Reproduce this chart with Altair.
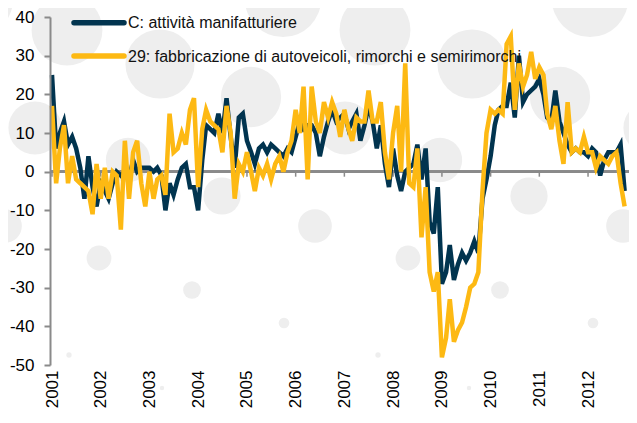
import math
import altair as alt
import pandas as pd

# ---------------- data ----------------
months = pd.date_range("2001-01-01", periods=142, freq="MS")
years = list(range(2001, 2013))
series_labels = ["C: attività manifatturiere",
                 "29: fabbricazione di autoveicoli, rimorchi e semirimorchi"]

c_values = [
    25, 6, 10, 13, 7, 9, 6, 1, -7, 4, -4, -9,            # 2001
    -3, -5, -7, -3, 0, -1, 0, -2, 3, 0, 1, 1,            # 2002
    1, 0, 1, -1, -10, -3, -6, -2, 1, 2, -4, -4,          # 2003
    -10, 3, 12, 11, 10, 15, 10, 19, 9, 1, 14, 15,        # 2004
    8, 5, 2, 6, 7, 5, 7, 6, 5, 4, 6, 5,                  # 2005
    9, 13, 11, 12, 12, 10, 4, 9, 13, 16, 13, 14,         # 2006
    15, 11, 13, 15, 8, 12, 17, 13, 6, 12, 2, -4,         # 2007
    6, -1, -5, 0, 1, 2, 7, -2, 6, -13, -16, -4,          # 2008
    -29, -26, -19, -28, -24, -21, -23, -21, -18, -21, -7, -2,  # 2009
    4, 12, 16, 17, 17, 23, 14, 30, 18, 20, 21, 22,       # 2010
    24, 20, 14, 13, 21, 13, 10, 7, 5, 6, 5, 5,           # 2011
    4, 6, 5, -1, 3, 5, 5, 5, 7, -5,                      # 2012
]

auto_values = [
    17, -3, 6, 12, -3, 4, -2, -3, -4, -5, -11, 2,        # 2001
    -7, 1, -7, 0, -1, -15, 8, -7, 5, 8, -3, -9,          # 2002
    0, -7, -2, -1, -6, 15, 5, 6, 10, 7, 16, 19,          # 2003
    -4, 11, 16, 13, 12, 11, 5, 17, 10, -7, 2, 0,         # 2004
    5, 0, -5, 1, -1, 2, -2, 2, 4, 0, 5, 8,               # 2005
    16, 10, 22, -2, 22, 13, 10, 18, 14, 18, 15, 9,       # 2006
    16, 11, 8, 14, 13, 13, 21, 13, 13, 18, 5, -2,        # 2007
    10, 17, 0, 28, -3, -4, 6, -17, -4, -26, -31, -26,    # 2008
    -48, -43, -33, -44, -41, -39, -35, -30, -29, -26, -5, 10,  # 2009
    16, 15, 16, 15, 33, 35, 16, 28, 22, 25, 31, 24,      # 2010
    27, 25, 15, 11, 17, 8, 2, 18, 5, 6, 5, 9,            # 2011
    5, 5, 1, 4, 3, 2, 4, 5, -3, -9,                      # 2012
]

y_ticks = list(range(-50, 41, 10))

# decorative background dots (page pixel positions and radii)
deco_x = [189, 497, -25, 283, 590, 67, 375, 160, 472, 251, 560, 35, 345, 650,
          128, 440, 222, 529, 5, 315, 623, 99, 408, 192, 500, 284, 593, 69, 378,
          162, 469]
deco_y = [-34, -34, -1, -1, -1, 30, 30, 64, 64, 97, 97, 128, 128, 128, 160, 160,
          196, 196, 226, 226, 226, 258, 258, 290, 290, 323, 323, 355, 355, 388, 388]
deco_r = [46, 46, 43, 43, 43, 40, 40, 39, 39, 34, 34, 30, 30, 30, 25, 25, 21, 21,
          19, 19, 19, 14, 14, 10, 10, 6, 6, 3, 3, 2.5, 2.5]

# ---------------- styling ----------------
NAVY = "#01344f"
YELLOW = "#fdb913"
GREY = "#8a8a8a"
DOT = "#eeeeee"
FONT = "Liberation Sans"
PLOT_LEFT, PLOT_TOP, PLOT_W, PLOT_H = 50, 17, 579, 348

df = pd.DataFrame({"date": months, "C": c_values, "A": auto_values})
ticks_df = pd.DataFrame({"date": pd.to_datetime([f"{y}-01-01" for y in years])})
deco_df = pd.DataFrame({
    "cx": [x - PLOT_LEFT for x in deco_x],
    "cy": [y - PLOT_TOP for y in deco_y],
    "area": [math.pi * r * r for r in deco_r],
})

x_scale = alt.Scale(domain=[alt.DateTime(year=2000, month=12, date=17),
                            alt.DateTime(year=2012, month=11, date=3)])
y_scale = alt.Scale(domain=[-50, 40], nice=False, zero=False)

x_axis = alt.Axis(values=[alt.DateTime(year=y, month=1, date=1) for y in years],
                  orient="bottom", format="%Y", labelAngle=-90, domain=False,
                  ticks=False, grid=False, labelFontSize=17, labelFont=FONT,
                  labelColor="#000000", labelPadding=5, labelOverlap=False,
                  zindex=1, title=None)
y_axis = alt.Axis(values=y_ticks, orient="left", grid=False, domain=True,
                  domainColor=GREY, domainWidth=2, ticks=True, tickColor=GREY,
                  tickWidth=2, tickSize=6, labelFontSize=17, labelFont=FONT,
                  labelColor="#000000", labelPadding=10, labelOverlap=False,
                  labelExpr="'' + datum.value", zindex=1, title=None)

dots = alt.Chart(deco_df).mark_circle(color=DOT, opacity=1).encode(
    x=alt.X("cx:Q", scale=None, axis=None),
    y=alt.Y("cy:Q", scale=None, axis=None),
    size=alt.Size("area:Q", scale=None, legend=None),
)
zero_line = alt.Chart(df).mark_rule(color=GREY, strokeWidth=2).encode(
    y=alt.YDatum(0, scale=y_scale, axis=None))
year_ticks = alt.Chart(ticks_df).mark_rule(color=GREY, strokeWidth=1.5).encode(
    x=alt.X("date:T", scale=x_scale, axis=None),
    y=alt.YDatum(0, scale=y_scale, axis=None),
    y2=alt.datum(-1.3),
)
navy_line = alt.Chart(df).mark_line(color=NAVY, strokeWidth=4.5).encode(
    x=alt.X("date:T", scale=x_scale, axis=x_axis),
    y=alt.Y("C:Q", scale=y_scale, axis=y_axis),
)
yellow_line = alt.Chart(df).mark_line(color=YELLOW, strokeWidth=4.5).encode(
    x=alt.X("date:T", scale=x_scale, axis=None),
    y=alt.Y("A:Q", scale=y_scale, axis=None),
)

leg1 = pd.DataFrame({"label": [series_labels[0]]})
leg2 = pd.DataFrame({"label": [series_labels[1]]})
leg_line1 = alt.Chart(leg1).mark_rule(color=NAVY, strokeWidth=5.5, strokeCap="round").encode(
    x=alt.value(24), x2=alt.value(74), y=alt.value(5.7))
leg_line2 = alt.Chart(leg2).mark_rule(color=YELLOW, strokeWidth=5.5, strokeCap="round").encode(
    x=alt.value(24), x2=alt.value(74), y=alt.value(39))
leg_text1 = alt.Chart(leg1).mark_text(align="left", baseline="middle", fontSize=16,
                                      font=FONT, color="#111111").encode(
    x=alt.value(78), y=alt.value(6), text="label:N")
leg_text2 = alt.Chart(leg2).mark_text(align="left", baseline="middle", fontSize=16,
                                      font=FONT, color="#111111").encode(
    x=alt.value(78), y=alt.value(39.5), text="label:N")

chart = alt.layer(
    dots, zero_line, year_ticks, navy_line, yellow_line,
    leg_line1, leg_line2, leg_text1, leg_text2,
).resolve_scale(
    x="independent", y="independent"
).properties(
    width=PLOT_W, height=PLOT_H,
    autosize=alt.AutoSizeParams(type="none"),
    padding={"left": 42, "top": 9, "right": 0, "bottom": 43},
    background="white",
).configure_view(strokeWidth=0)

chart.save("out.html", embed_options={"renderer": "svg", "actions": False})
